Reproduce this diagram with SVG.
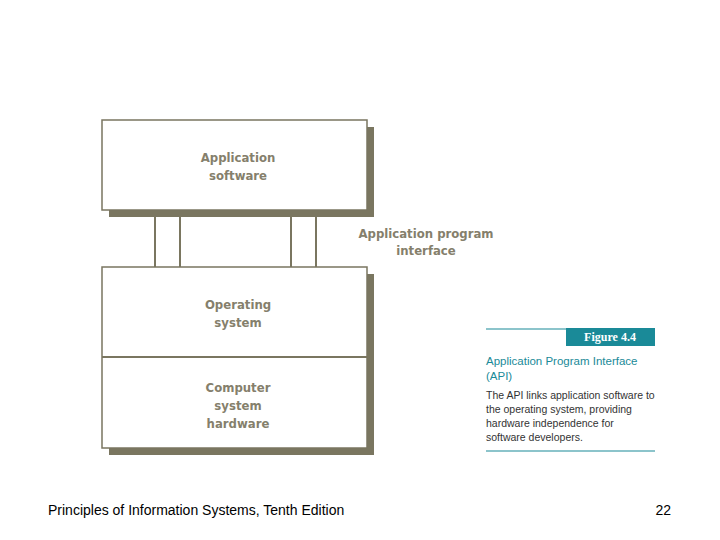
<svg xmlns="http://www.w3.org/2000/svg" width="720" height="540" viewBox="0 0 720 540">
<style>
.sh{fill:#7a7660}
.bx{fill:#fff;stroke:#7a7660;stroke-width:1.5}
.t{font-family:"DejaVu Sans Condensed","DejaVu Sans",sans-serif;font-weight:bold;font-size:13px;fill:#857f6c;text-anchor:middle}
.c{font-family:"Liberation Sans",sans-serif;font-size:10.5px;fill:#333}
.p{stroke:#7a7660;stroke-width:2}
</style>
<rect width="720" height="540" fill="#fff"/>
<g id="connectors">
<line class="p" x1="155" y1="214" x2="155" y2="267"/>
<line class="p" x1="180" y1="214" x2="180" y2="267"/>
<line class="p" x1="291" y1="214" x2="291" y2="267"/>
<line class="p" x1="316" y1="214" x2="316" y2="267" stroke-width="1.2"/>
</g>
<g id="app">
<rect class="sh" x="109" y="127" width="265" height="90"/>
<rect class="bx" x="102" y="120" width="265" height="90"/>
<text class="t" x="238" y="162">Application</text>
<text class="t" x="238" y="180">software</text>
</g>
<g id="api">
<text class="t" x="426" y="238">Application program</text>
<text class="t" x="426" y="255">interface</text>
</g>
<g id="os">
<rect class="sh" x="109" y="274" width="265" height="181"/>
<rect class="bx" x="102" y="267" width="265" height="181"/>
<line class="p" x1="102" y1="357" x2="367" y2="357" stroke-width="1.5"/>
<text class="t" x="238" y="309">Operating</text>
<text class="t" x="238" y="327">system</text>
</g>
<g id="hw">
<text class="t" x="238" y="392">Computer</text>
<text class="t" x="238" y="410">system</text>
<text class="t" x="238" y="428">hardware</text>
</g>
<g id="caption">
<line x1="486" y1="329" x2="566" y2="329" stroke="#1a8a98" stroke-width="1.2"/>
<rect x="566" y="328" width="89" height="18" fill="#1a8a98"/>
<text x="610" y="341" font-family="Liberation Serif,serif" font-weight="bold" font-size="12" fill="#fff" text-anchor="middle">Figure 4.4</text>
<text x="486" y="365" font-family="Liberation Sans,sans-serif" font-size="11.5" fill="#1a8a98">Application Program Interface</text>
<text x="486" y="380" font-family="Liberation Sans,sans-serif" font-size="11.5" fill="#1a8a98">(API)</text>
<text class="c" x="486" y="399">The API links application software to</text>
<text class="c" x="486" y="413">the operating system, providing</text>
<text class="c" x="486" y="427">hardware independence for</text>
<text class="c" x="486" y="441">software developers.</text>
<line x1="486" y1="451" x2="655" y2="451" stroke="#1a8a98" stroke-width="1.2"/>
</g>
<text x="48" y="515" font-family="Liberation Sans,sans-serif" font-size="14" fill="#000">Principles of Information Systems, Tenth Edition</text>
<text x="671" y="515" font-family="Liberation Sans,sans-serif" font-size="14" fill="#000" text-anchor="end">22</text>
</svg>
